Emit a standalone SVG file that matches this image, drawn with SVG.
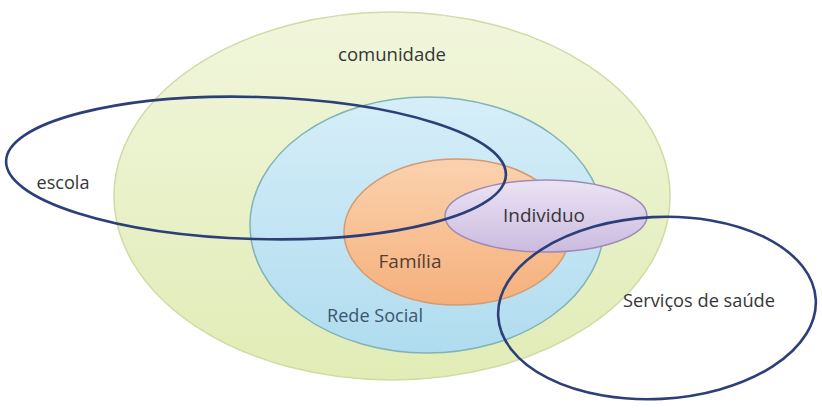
<svg xmlns="http://www.w3.org/2000/svg" width="822" height="408" viewBox="0 0 822 408">
<defs>
<linearGradient id="gG" x1="0" y1="0" x2="0" y2="1"><stop offset="0" stop-color="#f1f6dc"/><stop offset="1" stop-color="#e1ecb6"/></linearGradient>
<linearGradient id="gB" x1="0" y1="0" x2="0" y2="1"><stop offset="0" stop-color="#d6eef8"/><stop offset="1" stop-color="#b0dcef"/></linearGradient>
<linearGradient id="gO" x1="0" y1="0" x2="0" y2="1"><stop offset="0" stop-color="#fbd2ae"/><stop offset="1" stop-color="#f5b07c"/></linearGradient>
<linearGradient id="gP" x1="0" y1="0" x2="0" y2="1"><stop offset="0" stop-color="#ebe3f4"/><stop offset="1" stop-color="#cbbbe0"/></linearGradient>
</defs>
<style>
text{font-family:"Open Sans","Liberation Sans",sans-serif;font-size:18px;text-anchor:middle;fill:#363636}
.out{fill:none;stroke:#2d3f78;stroke-width:2.6}
</style>
<rect width="822" height="408" fill="#ffffff"/>
<g id="comunidade">
<ellipse cx="392" cy="196" rx="278" ry="184" fill="url(#gG)" stroke="#cfdca4" stroke-width="1.5"/>
<text x="392" y="61" textLength="108" lengthAdjust="spacingAndGlyphs">comunidade</text>
</g>
<g id="rede-social">
<ellipse cx="427" cy="225" rx="177" ry="128" fill="url(#gB)" stroke="#7fb3b5" stroke-width="1.5"/>
<text x="375" y="322" textLength="96" lengthAdjust="spacingAndGlyphs" style="fill:#3c5670">Rede Social</text>
</g>
<g id="familia">
<ellipse cx="457" cy="232" rx="113" ry="73" fill="url(#gO)" stroke="#d49b72" stroke-width="1.5"/>
<text x="410" y="268" textLength="63" lengthAdjust="spacingAndGlyphs" style="fill:#553f33">Família</text>
</g>
<g id="individuo">
<ellipse cx="546" cy="216" rx="101" ry="36" fill="url(#gP)" stroke="#9e8bb8" stroke-width="1.5"/>
<text x="544" y="222" textLength="82" lengthAdjust="spacingAndGlyphs">Individuo</text>
</g>
<g id="escola">
<ellipse class="out" cx="256" cy="168" rx="250" ry="71" transform="rotate(1.6 256 168)"/>
<text x="63" y="189" textLength="53" lengthAdjust="spacingAndGlyphs">escola</text>
</g>
<g id="servicos">
<ellipse class="out" cx="657" cy="308" rx="159" ry="91" transform="rotate(-3 657 308)"/>
<text x="699" y="307" textLength="152" lengthAdjust="spacingAndGlyphs">Serviços de saúde</text>
</g>
<g id="connectors"></g>
</svg>
